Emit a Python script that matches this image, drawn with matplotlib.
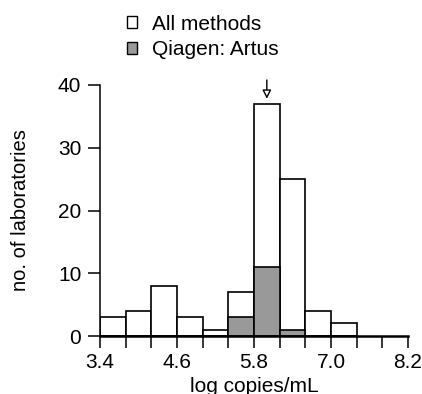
import matplotlib
matplotlib.use("Agg")
import matplotlib.pyplot as plt
from matplotlib.patches import Patch

# histogram bins (left edges), bin width in log copies/mL
bin_lefts = [3.4, 3.8, 4.2, 4.6, 5.0, 5.4, 5.8, 6.2, 6.6, 7.0]
bin_width = 0.4
all_counts = [3, 4, 8, 3, 1, 7, 37, 25, 4, 2]
qiagen_counts = [0, 0, 0, 0, 0, 3, 11, 1, 0, 0]

x_ticks = [3.4, 3.8, 4.2, 4.6, 5.0, 5.4, 5.8, 6.2, 6.6, 7.0, 7.4, 7.8, 8.2]
x_ticklabels = ["3.4", "", "", "4.6", "", "", "5.8", "", "", "7.0", "", "", "8.2"]
y_ticks = [0, 10, 20, 30, 40]
arrow_x = 6.0

plt.rcParams['font.family'] = ['Liberation Sans', 'DejaVu Sans']
plt.rcParams['font.size'] = 15

fig = plt.figure(figsize=(4.22, 3.94), dpi=100)
ax = fig.add_axes([100 / 422, 58 / 394, 308 / 422, 251 / 394])

ax.bar(bin_lefts, all_counts, width=bin_width, align='edge',
       facecolor='white', edgecolor='black', linewidth=1.2)
ax.bar(bin_lefts, qiagen_counts, width=bin_width, align='edge',
       facecolor='#999999', edgecolor='black', linewidth=1.2)

ax.set_xlim(3.4, 8.2)
ax.set_ylim(0, 40)
ax.set_xticks(x_ticks)
ax.set_xticklabels(x_ticklabels)
ax.set_yticks(y_ticks)
ax.tick_params(direction='out', length=8.5, width=1.1)
ax.tick_params(axis='x', pad=4)
ax.tick_params(axis='y', pad=5)
for s in ['top', 'right']:
    ax.spines[s].set_visible(False)
ax.spines['left'].set_linewidth(1.1)
ax.spines['bottom'].set_linewidth(1.8)

ax.set_xlabel("log copies/mL", labelpad=3)
ax.set_ylabel("no. of laboratories", labelpad=20, fontsize=14.5)

ax.annotate("", xy=(arrow_x, 37.8), xytext=(arrow_x, 40.8),
            arrowprops=dict(arrowstyle='-|>', facecolor='white',
                            edgecolor='black', lw=1.0, mutation_scale=13,
                            shrinkA=0, shrinkB=0),
            annotation_clip=False)

handles = [Patch(facecolor='white', edgecolor='black', linewidth=1.0),
           Patch(facecolor='#999999', edgecolor='black', linewidth=1.0)]
fig.legend(handles, ["All methods", "Qiagen: Artus"], loc='upper left',
           bbox_to_anchor=(113 / 422, 0.997), frameon=False,
           handlelength=0.5, handleheight=0.5, handletextpad=0.7,
           labelspacing=0.3, borderaxespad=0.25)

fig.savefig("out.png", dpi=100)
